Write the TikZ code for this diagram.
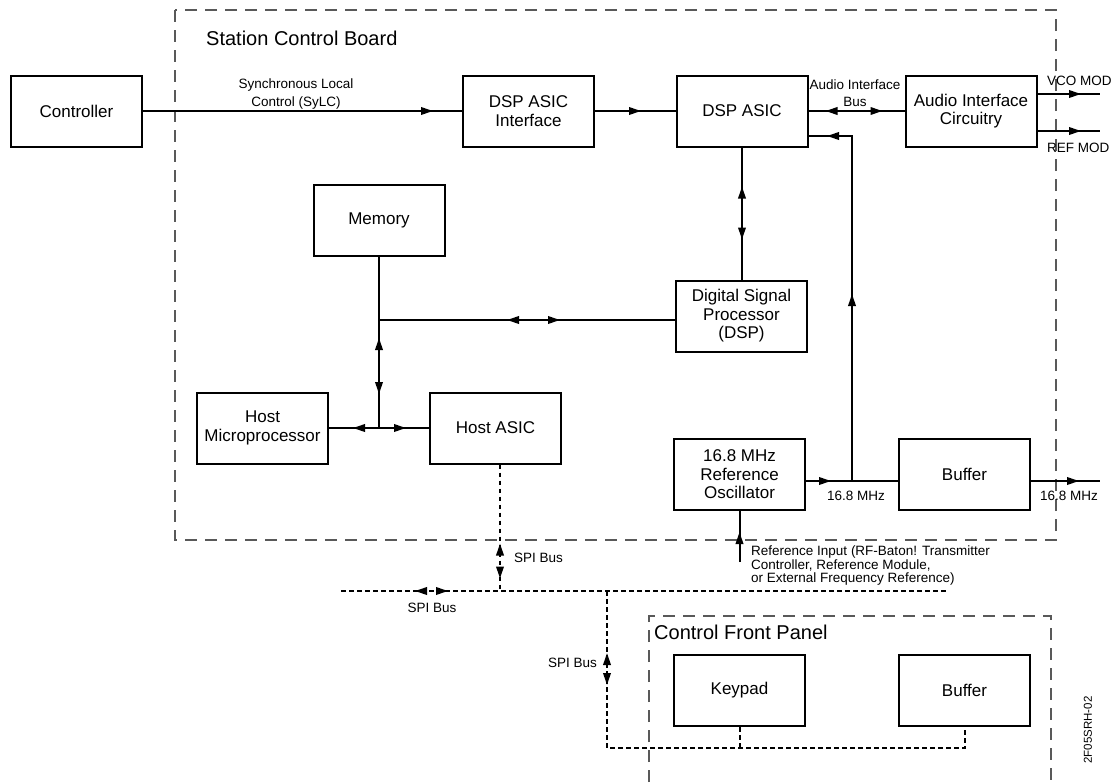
\documentclass[tikz,border=0pt]{standalone}
\usepackage{fontspec}
\setmainfont{Liberation Sans}
\usetikzlibrary{arrows.meta,decorations.markings,calc}

\tikzset{
  blk/.style={draw, line width=2pt, minimum width=131pt, minimum height=71pt,
    align=center, inner sep=0pt, font=\fontsize{17}{18.5}\selectfont},
  wire/.style={line width=2pt},
  spiline/.style={line width=2pt, dash pattern=on 4.5pt off 3.5pt},
  frame/.style={line width=1.1pt, draw=black!65, dash pattern=on 12pt off 8pt},
  lbl/.style={inner sep=0pt, font=\fontsize{13.5}{16}\selectfont},
  ttl/.style={inner sep=0pt, anchor=west, font=\fontsize{20}{24}\selectfont},
  tipfwd/.style={postaction={decorate, decoration={markings,
    mark=at position #1 with {\arrow{Triangle[length=12pt,width=7.5pt]}}}}},
  tipbwd/.style={postaction={decorate, decoration={markings,
    mark=at position #1 with {\arrowreversed{Triangle[length=12pt,width=7.5pt]}}}}},
}

\begin{document}
\begin{tikzpicture}[x=1pt, y=-1pt]
\useasboundingbox (0,0) rectangle (1119,782);

% enclosures
\draw[frame] (175,10) rectangle (1056,540);
\node[ttl] (scb) at (206,38) {Station Control Board};
\draw[frame] (649,782) -- (649,616) -- (1051,616) -- (1051,782);
\node[ttl] (cfp) at (654,632) {Control Front Panel};

% blocks
\node[blk] (ctrl)   at (76.5,111)  {Controller};
\node[blk] (dspif)  at (528.5,111) {DSP ASIC\\Interface};
\node[blk] (dspasic) at (742,111) {DSP ASIC};
\node[blk] (audio)  at (971,111)   {Audio Interface\\Circuitry};
\node[blk] (mem)    at (379,220)     {Memory};
\node[blk] (dsp)    at (741.5,316)   {Digital Signal\\Processor\\(DSP)};
\node[blk] (hostmp) at (262.5,428)   {Host\\Microprocessor};
\node[blk] (hostasic) at (495.5,428) {Host ASIC};
\node[blk] (osc)    at (739.5,474.5) {16.8 MHz\\Reference\\Oscillator};
\node[blk] (buf)    at (964.5,474.5) {Buffer};
\node[blk] (keypad) at (739.5,690.5) {Keypad};
\node[blk] (buf2)   at (964.5,690.5) {Buffer};

% junctions and free ends
\coordinate (jclk) at (852,481);
\coordinate (jmem) at (379,320);
\coordinate (jhost) at (379,428);
\coordinate (vco) at (1100,94);
\coordinate (ref) at (1100,131);
\coordinate (clkout) at (1100,481);
\coordinate (refin) at (739.5,562);
\coordinate (spitop) at (500,591);
\coordinate (spiL) at (341,591);
\coordinate (spiR) at (947,591);
\coordinate (spiB) at (607,591);
\coordinate (cfpbus) at (607,748);

% top row
\draw[wire, tipfwd=290pt] (ctrl.east) -- (dspif.west);
\draw[wire, tipfwd=46pt] (dspif.east) -- (dspasic.west);
\draw[wire, tipbwd=17pt, tipfwd=74pt] (dspasic.east) -- (audio.west);
\draw[wire, tipfwd=43.5pt] (vco -| audio.east) -- (vco);
\draw[wire, tipfwd=43.5pt] (ref -| audio.east) -- (ref);

% clock feedback into the DSP ASIC
\draw[wire, tipfwd=187pt, tipfwd=370pt] (jclk) -- (852,136) -- (852,136 -| dspasic.east);

% DSP ASIC <-> DSP
\draw[wire, tipbwd=39pt, tipfwd=92pt] (dspasic.south) -- (dspasic.south |- dsp.north);

% memory bus
\draw[wire] (mem.south) -- (jmem);
\draw[wire, tipbwd=18pt, tipfwd=74pt] (jmem) -- (jhost);
\draw[wire, tipbwd=128pt, tipfwd=181pt] (jmem) -- (jmem -| dsp.west);
\draw[wire, tipbwd=24pt, tipfwd=77pt] (hostmp.east) -- (hostasic.west);

% reference oscillator and buffer
\draw[wire, tipfwd=25pt] (jclk -| osc.east) -- (jclk -| buf.west);
\draw[wire, tipfwd=48pt] (jclk -| buf.east) -- (clkout);
\draw[wire, tipfwd=30pt] (refin) -- (osc.south);

% SPI bus
\draw[spiline, tipbwd=79pt, tipfwd=114pt] (spitop |- hostasic.south) -- (spitop);
\draw[spiline, tipbwd=74pt, tipfwd=107pt] (spiL) -- (spiR);
\draw[spiline, tipbwd=62pt, tipfwd=94pt] (spiB) -- (cfpbus) -- (cfpbus -| buf2.south) -- (buf2.south);
\draw[spiline] (keypad.south) -- (keypad.south |- cfpbus);

% labels
\node[lbl, align=center, font=\fontsize{13.5}{18}\selectfont] (lsylc) at (296,94) {Synchronous Local\\Control (SyLC)};
\node[lbl, align=center, font=\fontsize{13.5}{16.5}\selectfont] (lbus) at (855,93) {Audio Interface\\Bus};
\node[lbl, anchor=west] (lvco) at (1047,81) {VCO MOD};
\node[lbl, anchor=west] (lref) at (1047,148) {REF MOD};
\node[lbl] (lclk1) at (856,496) {16.8 MHz};
\node[lbl] (lclk2) at (1069,496) {16.8 MHz};
\node[lbl, anchor=north west, align=left, font=\fontsize{13.5}{13.5}\selectfont] (lrefin) at (751,546)
  {Reference Input (RF-Baton! Transmitter\\Controller, Reference Module,\\or External Frequency Reference)};
\node[lbl, anchor=west] (lspi1) at (514,558) {SPI Bus};
\node[lbl] (lspi2) at (432,608) {SPI Bus};
\node[lbl, anchor=east] (lspi3) at (597,663) {SPI Bus};
\node[inner sep=0pt, rotate=90, font=\fontsize{11.5}{12}\selectfont] (fig) at (1088,730) {2F05SRH-02};
\end{tikzpicture}
\end{document}
